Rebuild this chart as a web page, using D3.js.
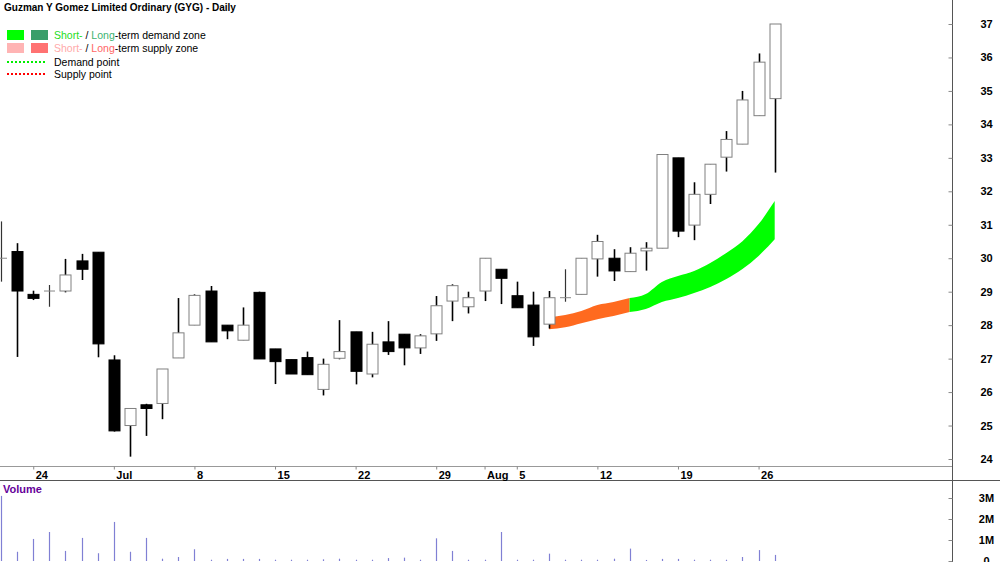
<!DOCTYPE html>
<html>
<head>
<meta charset="utf-8">
<script src="https://cdn.jsdelivr.net/npm/d3@7"></script>
<style>
	body { margin: 0; background: #fff; }
	svg { display: block; font-family: "Liberation Sans", Arial, sans-serif; }
	.axis text { font-size: 11px; font-weight: bold; fill: #000; }
	.legend text { font-size: 10.5px; fill: #000; }
</style>
</head>
<body>
<div id="chart"></div>
<script>

// trading days since listing
var dates = ["2024-06-20","2024-06-21","2024-06-24","2024-06-25","2024-06-26","2024-06-27","2024-06-28",
	"2024-07-01","2024-07-02","2024-07-03","2024-07-04","2024-07-05","2024-07-08","2024-07-09","2024-07-10","2024-07-11","2024-07-12",
	"2024-07-15","2024-07-16","2024-07-17","2024-07-18","2024-07-19","2024-07-22","2024-07-23","2024-07-24","2024-07-25","2024-07-26",
	"2024-07-29","2024-07-30","2024-07-31","2024-08-01","2024-08-02","2024-08-05","2024-08-06","2024-08-07","2024-08-08","2024-08-09",
	"2024-08-12","2024-08-13","2024-08-14","2024-08-15","2024-08-16","2024-08-19","2024-08-20","2024-08-21","2024-08-22","2024-08-23",
	"2024-08-26","2024-08-27"];

var opens = [30.00,30.20,28.92,29.02,29.02,29.92,30.18,26.96,25.00,25.62,25.66,27.02,28.00,29.02,28.00,27.55,28.98,
	27.29,26.97,27.03,26.08,27.01,27.80,26.54,27.50,27.73,27.32,27.74,28.72,28.55,29.02,29.67,28.88,28.60,28.03,28.82,28.92,
	29.98,30.00,29.60,30.22,30.30,33.00,30.99,31.91,33.02,33.41,34.26,34.77];
var highs = [31.10,30.45,29.03,29.20,29.98,30.13,30.18,27.10,25.51,25.65,26.69,28.81,28.92,29.17,28.00,28.53,29.00,
	27.29,26.97,27.21,27.00,28.15,27.80,27.80,28.12,27.73,27.73,28.87,29.22,29.00,30.00,29.67,29.30,29.00,29.02,29.67,30.00,
	30.70,30.27,30.33,30.48,33.10,33.00,32.27,32.81,33.80,35.00,36.12,37.00];
var lows = [29.30,27.05,28.75,28.55,28.98,29.35,27.04,24.82,24.07,24.69,25.19,27.02,28.00,27.50,27.58,27.55,26.99,
	26.24,26.54,26.52,25.90,26.98,26.23,26.44,27.11,26.80,27.14,27.53,28.12,28.35,28.72,28.63,28.52,27.38,27.90,28.70,28.92,
	29.45,29.32,29.60,29.63,30.30,30.63,30.54,31.62,32.59,33.41,34.26,32.56];
var closes = [30.00,29.02,28.80,29.02,29.50,29.67,27.44,24.84,25.51,25.51,26.69,27.77,28.89,27.50,27.83,28.00,26.99,
	26.91,26.54,26.52,26.83,27.21,26.62,27.43,27.21,27.32,27.68,28.58,29.18,28.82,30.00,29.40,28.52,27.65,28.82,28.82,30.00,
	30.50,29.62,30.15,30.30,33.10,30.81,31.91,32.81,33.55,34.73,35.86,37.00];

// volume in millions of shares
var volumes = [3.10,0.44,1.05,1.38,0.48,1.10,0.37,1.86,0.44,1.10,0.11,0.19,0.56,0.06,0.10,0.10,0.10,
	0.06,0.06,0.06,0.08,0.11,0.06,0.06,0.14,0.16,0.06,1.08,0.48,0.06,0.06,1.38,0.06,0.06,0.35,0.06,0.06,
	0.06,0.11,0.59,0.05,0.10,0.10,0.06,0.06,0.06,0.19,0.52,0.29];

// demand / supply zone from 7 Aug
var zoneDates = ["2024-08-07","2024-08-08","2024-08-09","2024-08-12","2024-08-13","2024-08-14","2024-08-15","2024-08-16",
	"2024-08-19","2024-08-20","2024-08-21","2024-08-22","2024-08-23","2024-08-26","2024-08-27"];
var zoneTop = [28.23,28.30,28.42,28.60,28.69,28.81,28.93,29.29,29.47,29.62,29.86,30.16,30.51,31.02,31.71];
var zoneBottom = [27.88,27.94,28.06,28.18,28.27,28.39,28.48,28.69,28.81,28.96,29.14,29.38,29.68,30.07,30.57];
var zoneType = ["supply","supply","supply","supply","supply","demand","demand","demand","demand","demand",
	"demand","demand","demand","demand","demand"];

var tickDates = ["2024-06-24","2024-07-01","2024-07-08","2024-07-15","2024-07-22","2024-07-29","2024-08-01",
	"2024-08-05","2024-08-12","2024-08-19","2024-08-26"];
var tickLabels = ["24","Jul","8","15","22","29","Aug","5","12","19","26"];

var priceTicks = d3.range(24, 38);
var volumeTicks = [0, 1, 2, 3];

var zoneColors = {supply: "#ff6a1f", demand: "#00ff00"};

var width = 1000, height = 562, axisX = 952;
var priceBottom = 466, volTop = 480;

var svg = d3.select("#chart").append("svg")
	.attr("width", width)
	.attr("height", height);

var x = d3.scaleLinear()
	.domain([0, 59])
	.range([1, axisX]);

var y = d3.scaleLinear()
	.domain([24, 37])
	.range([459, 24]);

var v = d3.scaleLinear()
	.domain([0, 3])
	.range([561, 498]);

function xd(date) { return x(dates.indexOf(date)); }

svg.append("clipPath").attr("id", "priceClip")
	.append("rect").attr("x", 0).attr("y", 0).attr("width", axisX).attr("height", priceBottom);

svg.append("clipPath").attr("id", "volClip")
	.append("rect").attr("x", 0).attr("y", volTop + 1).attr("width", axisX).attr("height", height - volTop);

var priceG = svg.append("g").attr("clip-path", "url(#priceClip)");

// zone band, split in supply and demand pieces
var zone = zoneDates.map(function(d, i) {
	return {date: d, top: zoneTop[i], bottom: zoneBottom[i], type: zoneType[i]};
});

var segments = [];
zone.forEach(function(d, i) {
	if (i == 0 || d.type != zone[i-1].type) {
		if (i > 0) segments[segments.length-1].points.push(d);
		segments.push({type: d.type, points: [d]});
	} else {
		segments[segments.length-1].points.push(d);
	}
});

var area = d3.area()
	.curve(d3.curveMonotoneX)
	.x(function(d) { return xd(d.date); })
	.y0(function(d) { return y(d.bottom); })
	.y1(function(d) { return y(d.top); });

priceG.selectAll(".zone")
	.data(segments)
	.enter().append("path")
	.attr("class", "zone")
	.attr("d", function(d) { return area(d.points); })
	.attr("fill", function(d) { return zoneColors[d.type]; });

// candles
var candles = dates.map(function(d, i) {
	return {date: d, o: opens[i], h: highs[i], l: lows[i], c: closes[i]};
});

var bw = 11;

var cg = priceG.selectAll(".candle")
	.data(candles)
	.enter().append("g")
	.attr("class", "candle")
	.attr("transform", function(d) { return "translate(" + Math.round(xd(d.date)) + ",0)"; });

cg.append("line")
	.attr("x1", 0.5).attr("x2", 0.5)
	.attr("y1", function(d) { return y(d.h); })
	.attr("y2", function(d) { return y(d.l); })
	.attr("stroke", function(d) { return d.o == d.c ? "#333" : "#000"; })
	.attr("stroke-width", function(d) { return d.o == d.c ? 1.2 : 1.6; });

cg.filter(function(d) { return d.o != d.c; })
	.append("rect")
	.attr("x", -bw/2 + 0.5)
	.attr("width", bw)
	.attr("y", function(d) { return y(Math.max(d.o, d.c)); })
	.attr("height", function(d) { return Math.max(1, Math.abs(y(d.o) - y(d.c))); })
	.attr("fill", function(d) { return d.c > d.o ? "#fff" : "#000"; })
	.attr("stroke", function(d) { return d.c > d.o ? "#808080" : "#000"; })
	.attr("stroke-width", 1);

cg.filter(function(d) { return d.o == d.c; })
	.append("line")
	.attr("x1", -bw/2 + 0.5).attr("x2", bw/2 + 0.5)
	.attr("y1", function(d) { return y(d.c); })
	.attr("y2", function(d) { return y(d.c); })
	.attr("stroke", "#888")
	.attr("stroke-width", 1);

// volume
svg.append("g").attr("clip-path", "url(#volClip)")
	.selectAll("line")
	.data(volumes)
	.enter().append("line")
	.attr("x1", function(d, i) { return Math.round(x(i)) + 0.5; })
	.attr("x2", function(d, i) { return Math.round(x(i)) + 0.5; })
	.attr("y1", v(0))
	.attr("y2", function(d) { return v(d); })
	.attr("stroke", "#8080d4")
	.attr("stroke-width", 1.2);

// frame lines
svg.append("line")
	.attr("x1", 0).attr("x2", axisX)
	.attr("y1", priceBottom + 0.5).attr("y2", priceBottom + 0.5)
	.attr("stroke", "#999");

svg.append("line")
	.attr("x1", 0).attr("x2", width)
	.attr("y1", volTop + 0.5).attr("y2", volTop + 0.5)
	.attr("stroke", "#555");

svg.append("line")
	.attr("x1", axisX + 0.5).attr("x2", axisX + 0.5)
	.attr("y1", 0).attr("y2", height)
	.attr("stroke", "#555");

// axes
var yAxis = d3.axisRight(y)
	.tickValues(priceTicks)
	.tickSizeInner(-4)
	.tickSizeOuter(0)
	.tickFormat(d3.format("d"));

var yAxisG = svg.append("g")
	.attr("class", "axis")
	.attr("transform", "translate(" + (axisX + 0.5) + ",0)")
	.call(yAxis);

var vAxis = d3.axisRight(v)
	.tickValues(volumeTicks)
	.tickSizeInner(-4)
	.tickSizeOuter(0)
	.tickFormat(function(d) { return d ? d + "M" : "0"; });

var vAxisG = svg.append("g")
	.attr("class", "axis")
	.attr("transform", "translate(" + (axisX + 0.5) + ",0)")
	.call(vAxis);

[yAxisG, vAxisG].forEach(function(g) {
	g.select(".domain").remove();
	g.selectAll(".tick line").attr("stroke", "#888");
	g.selectAll(".tick text").attr("x", 34).attr("text-anchor", "middle");
});

var xAxis = d3.axisBottom(x)
	.tickValues(tickDates.map(function(d) { return dates.indexOf(d); }))
	.tickSizeInner(3)
	.tickSizeOuter(0)
	.tickFormat(function(d, i) { return tickLabels[i]; });

var xAxisG = svg.append("g")
	.attr("class", "axis")
	.attr("transform", "translate(0," + (priceBottom + 0.5) + ")")
	.call(xAxis);

xAxisG.select(".domain").remove();
xAxisG.selectAll(".tick line").attr("stroke", "#888");
xAxisG.selectAll(".tick text")
	.attr("text-anchor", "start")
	.attr("x", 2)
	.attr("y", 3)
	.attr("dy", "0.9em");

// title + legend
svg.append("text")
	.attr("x", 4).attr("y", 11)
	.style("font-size", "10px").style("font-weight", "bold")
	.text("Guzman Y Gomez Limited Ordinary (GYG) - Daily");

svg.append("text")
	.attr("x", 3).attr("y", 493)
	.style("font-size", "11px").style("font-weight", "bold")
	.attr("fill", "#660099")
	.text("Volume");

var legend = svg.append("g").attr("class", "legend");

var swatches = [
	{y: 30, c1: "#00ff00", c2: "#3a9e6a", parts: [["Short-", "#22dd22"], [" / ", "#000"], ["Long", "#3cb371"], ["-term demand zone", "#000"]]},
	{y: 43, c1: "#ffb4b4", c2: "#ff7272", parts: [["Short-", "#ffaaaa"], [" / ", "#000"], ["Long", "#ff6666"], ["-term supply zone", "#000"]]}
];

swatches.forEach(function(s) {
	legend.append("rect").attr("x", 7).attr("y", s.y).attr("width", 17).attr("height", 10).attr("fill", s.c1);
	legend.append("rect").attr("x", 31).attr("y", s.y).attr("width", 17).attr("height", 10).attr("fill", s.c2);
	var t = legend.append("text").attr("x", 54).attr("y", s.y + 9);
	s.parts.forEach(function(p) {
		t.append("tspan").attr("fill", p[1]).text(p[0]);
	});
});

var points = [
	{y: 62, c: "#00ee00", label: "Demand point"},
	{y: 74, c: "#ff0000", label: "Supply point"}
];

points.forEach(function(p) {
	legend.append("line")
		.attr("x1", 7).attr("x2", 47)
		.attr("y1", p.y).attr("y2", p.y)
		.attr("stroke", p.c)
		.attr("stroke-width", 2)
		.attr("stroke-dasharray", "2,2");
	legend.append("text").attr("x", 54).attr("y", p.y + 4).text(p.label);
});

</script>
</body>
</html>
